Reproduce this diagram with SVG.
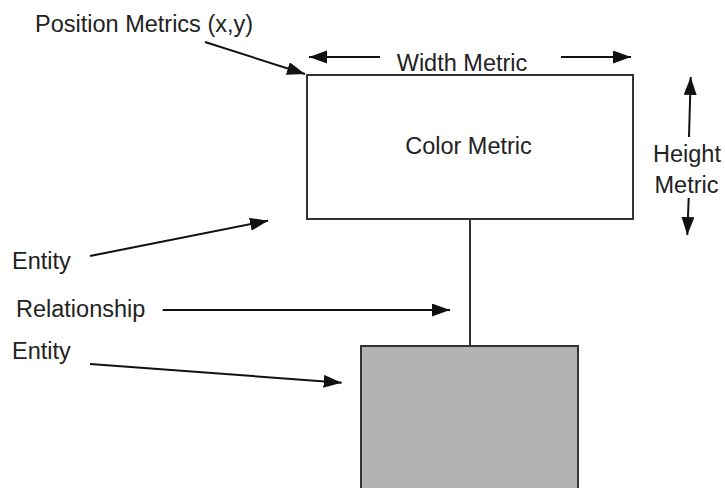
<svg xmlns="http://www.w3.org/2000/svg" width="725" height="488" viewBox="0 0 725 488">
<style>
text{font-family:"Liberation Sans",Arial,sans-serif;font-size:23.5px;fill:#222}
.c{stroke:#111;stroke-width:2;fill:none;marker-end:url(#ah)}
.n{stroke:#333;stroke-width:2}
</style>
<defs>
<marker id="ah" markerUnits="userSpaceOnUse" markerWidth="20" markerHeight="14" refX="18" refY="6.5" orient="auto" viewBox="0 0 20 14">
<path d="M0,0 L18,6.5 L0,13 z" fill="#111"/>
</marker>
</defs>
<rect width="725" height="488" fill="#fff"/>
<g id="entity-top">
<rect class="n" x="307" y="75" width="326" height="144" fill="#fff"/>
<text x="468.5" y="154" text-anchor="middle">Color Metric</text>
</g>
<g id="entity-bottom">
<rect class="n" x="361" y="346" width="217" height="150" fill="#b3b3b3"/>
</g>
<g id="labels">
<text x="35" y="32">Position Metrics (x,y)</text>
<text x="462" y="70.5" text-anchor="middle">Width Metric</text>
<text x="687" y="161.5" text-anchor="middle">Height</text>
<text x="686.5" y="192.5" text-anchor="middle">Metric</text>
<text x="12" y="269">Entity</text>
<text x="16" y="317">Relationship</text>
<text x="12" y="359">Entity</text>
</g>
<g id="connectors">
<line class="n" x1="470" y1="219" x2="470" y2="346"/>
<line class="c" x1="205" y1="42" x2="305" y2="74"/>
<line class="c" x1="380" y1="57" x2="309" y2="57"/>
<line class="c" x1="561" y1="57" x2="631" y2="57"/>
<line class="c" x1="689" y1="137" x2="690.7" y2="77"/>
<line class="c" x1="688.7" y1="198" x2="687.3" y2="235"/>
<line class="c" x1="90" y1="256" x2="268" y2="220.7"/>
<line class="c" x1="162.7" y1="310" x2="450" y2="310"/>
<line class="c" x1="90" y1="364" x2="341.7" y2="382.7"/>
</g>
</svg>
